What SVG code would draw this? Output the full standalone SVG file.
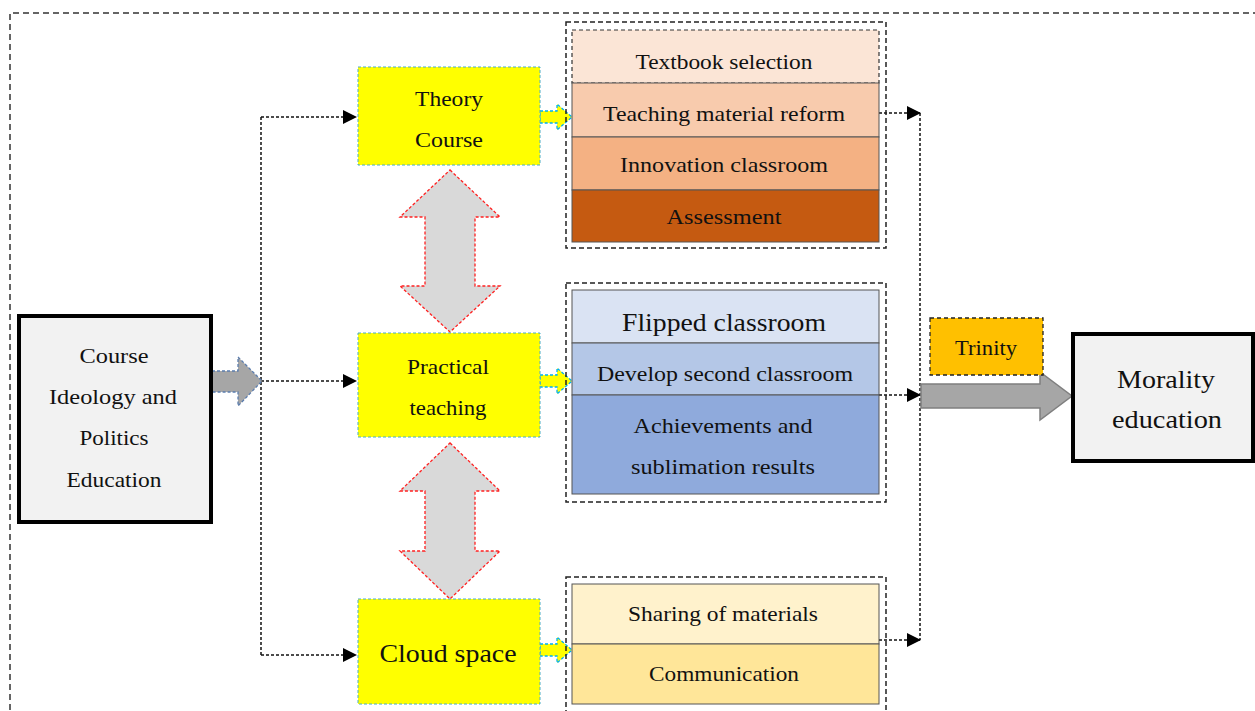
<svg xmlns="http://www.w3.org/2000/svg" width="1255" height="711" viewBox="0 0 1255 711">
<style>
text{font-family:"Liberation Serif","DejaVu Serif",serif;fill:#111;text-anchor:middle}
.t20{font-size:22px}
.t24{font-size:25px}
.yel{fill:#ffff00;stroke:#4bacc6;stroke-width:1;stroke-dasharray:3,2}
.grp{fill:none;stroke:#222;stroke-width:1.5;stroke-dasharray:5,3}
.row{stroke:#555;stroke-width:1}
.conn{fill:none;stroke:#111;stroke-width:1.5;stroke-dasharray:3,2}
.big{fill:#f2f2f2;stroke:#000;stroke-width:4}
.dbl{fill:#d9d9d9;stroke:#ff2020;stroke-width:1.3;stroke-dasharray:3,2}
.sm{fill:#ffff00;stroke:#00b0f0;stroke-width:1.3;stroke-dasharray:3,2}
</style>
<defs>
<marker id="ah2" markerWidth="14" markerHeight="14" refX="13" refY="7" orient="auto" markerUnits="userSpaceOnUse"><path d="M0,0 L14,7 L0,14 Z" fill="#000"/></marker>
</defs>
<rect width="1255" height="711" fill="#fff"/>
<path d="M10,720 L10,13 L1265,13" fill="none" stroke="#333" stroke-width="1.5" stroke-dasharray="6,4"/>

<g id="connectors">
<path class="conn" d="M261,117 L261,655"/>
<path class="conn" d="M261,117 L356,117" marker-end="url(#ah2)"/>
<path class="conn" d="M261,381 L356,381" marker-end="url(#ah2)"/>
<path class="conn" d="M261,655 L356,655" marker-end="url(#ah2)"/>
<path class="conn" d="M920,113 L920,640"/>
<path class="conn" d="M879,113 L920,113" marker-end="url(#ah2)"/>
<path class="conn" d="M879,395 L920,395" marker-end="url(#ah2)"/>
<path class="conn" d="M879,640 L920,640" marker-end="url(#ah2)"/>
<path d="M212,371 L238,371 L238,357 L262,381 L238,406 L238,392 L212,392 Z" fill="#a6a6a6" stroke="#5b7dae" stroke-width="1.3" stroke-dasharray="3,2"/>
<path class="sm" d="M540,111 L557,111 L557,104 L572,117 L557,130 L557,123 L540,123 Z"/>
<path class="sm" d="M540,375 L557,375 L557,368 L572,381 L557,394 L557,387 L540,387 Z"/>
<path class="sm" d="M540,644 L557,644 L557,637 L572,650 L557,663 L557,656 L540,656 Z"/>
<path class="dbl" d="M450,170 L500,217 L475,217 L475,286 L500,286 L450,332 L400,286 L425,286 L425,217 L400,217 Z"/>
<path class="dbl" d="M450,443 L500,491 L475,491 L475,551 L500,551 L450,599 L400,551 L425,551 L425,491 L400,491 Z"/>
<path d="M921,384 L1040,384 L1040,372 L1072,396 L1040,420 L1040,408 L921,408 Z" fill="#a6a6a6" stroke="#7f7f7f" stroke-width="1.5"/>
</g>

<g id="course-ideology">
<rect class="big" x="19" y="316" width="192" height="206"/>
<text class="t20" x="114" y="363" textLength="69" lengthAdjust="spacingAndGlyphs">Course</text>
<text class="t20" x="113" y="404" textLength="128" lengthAdjust="spacingAndGlyphs">Ideology and</text>
<text class="t20" x="114" y="445" textLength="69" lengthAdjust="spacingAndGlyphs">Politics</text>
<text class="t20" x="114" y="487" textLength="95" lengthAdjust="spacingAndGlyphs">Education</text>
</g>

<g id="theory-course">
<rect class="yel" x="358" y="67" width="182" height="98"/>
<text class="t20" x="449" y="106" textLength="68" lengthAdjust="spacingAndGlyphs">Theory</text>
<text class="t20" x="449" y="147" textLength="68" lengthAdjust="spacingAndGlyphs">Course</text>
</g>

<g id="practical-teaching">
<rect class="yel" x="358" y="333" width="182" height="104"/>
<text class="t20" x="448" y="374" textLength="82" lengthAdjust="spacingAndGlyphs">Practical</text>
<text class="t20" x="448" y="415" textLength="77" lengthAdjust="spacingAndGlyphs">teaching</text>
</g>

<g id="cloud-space">
<rect class="yel" x="358" y="599" width="182" height="105"/>
<text class="t24" x="448" y="662" textLength="137" lengthAdjust="spacingAndGlyphs">Cloud space</text>
</g>

<g id="theory-group">
<rect class="grp" x="566" y="22" width="320" height="226"/>
<rect x="572" y="30" width="307" height="53" fill="#fbe5d6" stroke="#333" stroke-width="1.2" stroke-dasharray="4,3"/>
<rect class="row" x="572" y="83" width="307" height="54" fill="#f8cbad"/>
<rect class="row" x="572" y="137" width="307" height="53" fill="#f4b183"/>
<rect class="row" x="572" y="190" width="307" height="52" fill="#c55a11"/>
<text class="t20" x="724" y="69" textLength="177" lengthAdjust="spacingAndGlyphs">Textbook selection</text>
<text class="t20" x="724" y="121" textLength="242" lengthAdjust="spacingAndGlyphs">Teaching material reform</text>
<text class="t20" x="724" y="172" textLength="208" lengthAdjust="spacingAndGlyphs">Innovation classroom</text>
<text class="t20" x="724" y="224" textLength="115" lengthAdjust="spacingAndGlyphs">Assessment</text>
</g>

<g id="practical-group">
<rect class="grp" x="566" y="283" width="320" height="219"/>
<rect class="row" x="572" y="290" width="307" height="53" fill="#dae3f3"/>
<rect class="row" x="572" y="343" width="307" height="52" fill="#b4c7e7"/>
<rect class="row" x="572" y="395" width="307" height="99" fill="#8faadc"/>
<text class="t24" x="724" y="331" textLength="204" lengthAdjust="spacingAndGlyphs">Flipped classroom</text>
<text class="t20" x="725" y="381" textLength="256" lengthAdjust="spacingAndGlyphs">Develop second classroom</text>
<text class="t20" x="723" y="433" textLength="179" lengthAdjust="spacingAndGlyphs">Achievements and</text>
<text class="t20" x="723" y="474" textLength="184" lengthAdjust="spacingAndGlyphs">sublimation results</text>
</g>

<g id="cloud-group">
<rect class="grp" x="566" y="577" width="320" height="145"/>
<rect class="row" x="572" y="584" width="307" height="60" fill="#fff2cc"/>
<rect class="row" x="572" y="644" width="307" height="60" fill="#ffe699"/>
<text class="t20" x="723" y="621" textLength="190" lengthAdjust="spacingAndGlyphs">Sharing of materials</text>
<text class="t20" x="724" y="681" textLength="150" lengthAdjust="spacingAndGlyphs">Communication</text>
</g>

<g id="trinity">
<rect x="930" y="318" width="113" height="57" fill="#ffc000" stroke="#222" stroke-width="1.3" stroke-dasharray="4,3"/>
<text class="t20" x="986" y="355" textLength="62" lengthAdjust="spacingAndGlyphs">Trinity</text>
</g>

<g id="morality-education">
<rect class="big" x="1073" y="334" width="180" height="127"/>
<text class="t24" x="1166" y="388" textLength="98" lengthAdjust="spacingAndGlyphs">Morality</text>
<text class="t24" x="1167" y="428" textLength="110" lengthAdjust="spacingAndGlyphs">education</text>
</g>
</svg>
